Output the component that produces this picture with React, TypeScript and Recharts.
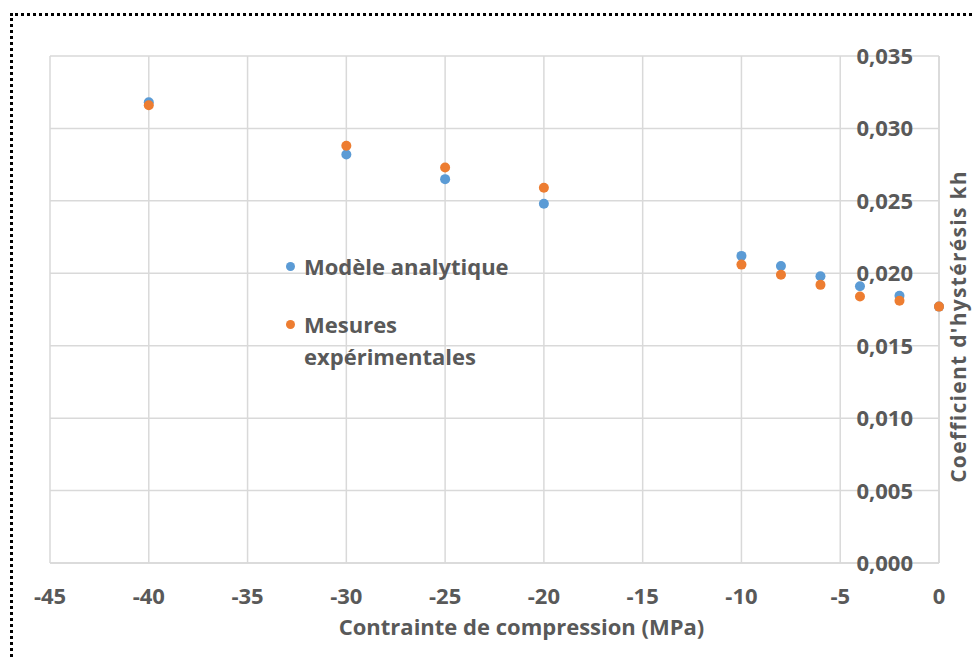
import { ScatterChart, Scatter, XAxis, YAxis, CartesianGrid, Legend } from 'recharts';

const stress = [-40, -30, -25, -20, -10, -8, -6, -4, -2, 0];
const modele = [0.0318, 0.0282, 0.0265, 0.0248, 0.0212, 0.0205, 0.0198, 0.0191, 0.01845, 0.0177];
const mesures = [0.0316, 0.0288, 0.0273, 0.0259, 0.0206, 0.0199, 0.0192, 0.0184, 0.0181, 0.0177];
const xTicks = [-45, -40, -35, -30, -25, -20, -15, -10, -5, 0];
const yTicks = [0, 0.005, 0.01, 0.015, 0.02, 0.025, 0.03, 0.035];

const modeleData = stress.map((x, i) => ({ x, y: modele[i] }));
const mesuresData = stress.map((x, i) => ({ x, y: mesures[i] }));

const FONT = '"Open Sans", sans-serif';
const TEXT = '#595959';
const BLUE = '#5B9BD5';
const ORANGE = '#ED7D31';

const fmt = (v: number) => v.toFixed(3).replace('.', ',');

const XTick = (props: any) => {
  const { x, y, payload } = props;
  return (
    <text x={x} y={y} dy={33} textAnchor="middle" fill={TEXT} fontFamily={FONT} fontWeight={700} fontSize={22}>
      {payload.value}
    </text>
  );
};

const YTick = (props: any) => {
  const { x, y, payload } = props;
  return (
    <text x={x} y={y} dx={-34} dy={8} textAnchor="end" fill={TEXT} fontFamily={FONT} fontWeight={700} fontSize={22}>
      {fmt(payload.value)}
    </text>
  );
};

const Dot = (color: string) => (props: any) => <circle cx={props.cx} cy={props.cy} r={5} fill={color} />;

const LegendBox = () => (
  <div style={{ fontFamily: FONT, fontWeight: 700, fontSize: 22, color: TEXT, lineHeight: '32px', width: 260 }}>
    <div style={{ display: 'flex', alignItems: 'flex-start' }}>
      <span style={{ width: 9, height: 9, borderRadius: '50%', background: BLUE, marginTop: 12, marginRight: 9, flex: 'none' }} />
      <span style={{ whiteSpace: 'nowrap' }}>Modèle analytique</span>
    </div>
    <div style={{ display: 'flex', alignItems: 'flex-start', marginTop: 26 }}>
      <span style={{ width: 9, height: 9, borderRadius: '50%', background: ORANGE, marginTop: 12, marginRight: 9, flex: 'none' }} />
      <span style={{ width: 180 }}>Mesures expérimentales</span>
    </div>
  </div>
);

export default function App() {
  return (
    <div style={{ position: 'fixed', left: 0, top: 0, width: 974, height: 660, overflow: 'hidden', background: '#fff' }}>
      <div
        style={{
          position: 'absolute',
          left: 10,
          top: 13,
          width: 1000,
          height: 700,
          borderTop: '3px dotted #000',
          borderLeft: '3px dotted #000',
        }}
      />
      <div style={{ position: 'absolute', left: 0, top: 0 }}>
        <ScatterChart width={974} height={660} margin={{ top: 56, right: 0, bottom: 20, left: 50 }}>
          <CartesianGrid stroke="#d9d9d9" strokeWidth={1.5} />
          <XAxis
            type="number"
            dataKey="x"
            domain={[-45, 0]}
            ticks={xTicks}
            interval={0}
            height={77}
            tickLine={false}
            axisLine={{ stroke: '#d9d9d9', strokeWidth: 1.5 }}
            tick={<XTick />}
            label={{
              value: 'Contrainte de compression (MPa)',
              position: 'insideBottom',
              offset: 5,
              dx: 27,
              fill: TEXT,
              fontFamily: FONT,
              fontWeight: 700,
              fontSize: 22,
            }}
          />
          <YAxis
            type="number"
            dataKey="y"
            orientation="right"
            domain={[0, 0.035]}
            ticks={yTicks}
            interval={0}
            width={35}
            tickLine={false}
            axisLine={{ stroke: '#d9d9d9', strokeWidth: 1.5 }}
            tick={<YTick />}
            label={{
              value: "Coefficient d'hystérésis kh",
              angle: -90,
              position: 'center',
              dx: 2,
              dy: 17,
              fill: TEXT,
              fontFamily: FONT,
              fontWeight: 700,
              fontSize: 21,
              letterSpacing: 1.3,
            }}
          />
          <Legend
            layout="vertical"
            align="center"
            verticalAlign="middle"
            content={() => <LegendBox />}
            wrapperStyle={{ position: 'absolute', left: 286, top: 250, width: 270 }}
          />
          <Scatter name="Modèle analytique" data={modeleData} fill={BLUE} shape={Dot(BLUE)} isAnimationActive={false} />
          <Scatter name="Mesures expérimentales" data={mesuresData} fill={ORANGE} shape={Dot(ORANGE)} isAnimationActive={false} />
        </ScatterChart>
      </div>
    </div>
  );
}
